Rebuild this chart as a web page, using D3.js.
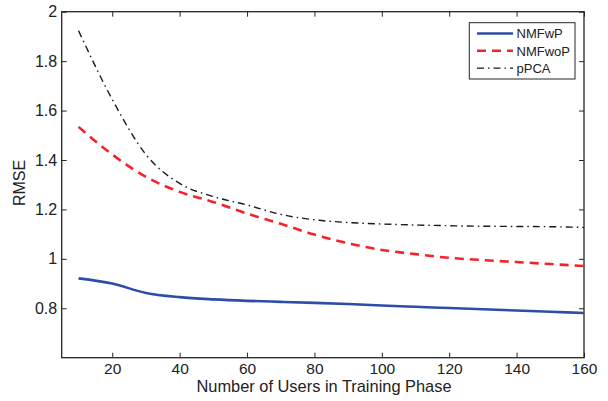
<!DOCTYPE html>
<html>
<head>
<meta charset="utf-8">
<script src="https://cdn.jsdelivr.net/npm/d3@7"></script>
<style>
  html, body { margin: 0; padding: 0; background: #fff; }
  svg { display: block; font-family: "Liberation Sans", Arial, sans-serif; }
</style>
</head>
<body>
<svg id="chart" width="608" height="401"></svg>
<script>
// Number of users in the training phase
const users = [10, 20, 30, 40, 50, 60, 70, 80, 90, 100, 110, 120, 130, 140, 150, 160];

// RMSE per method
const nmfwp  = [0.921, 0.900, 0.862, 0.845, 0.836, 0.830, 0.826, 0.822, 0.817, 0.811, 0.806, 0.801, 0.796, 0.791, 0.786, 0.781];
const nmfwop = [1.534, 1.422, 1.332, 1.271, 1.230, 1.183, 1.142, 1.098, 1.063, 1.036, 1.019, 1.004, 0.995, 0.987, 0.979, 0.971];
const ppca   = [1.923, 1.645, 1.422, 1.305, 1.252, 1.218, 1.180, 1.158, 1.147, 1.141, 1.137, 1.134, 1.132, 1.131, 1.130, 1.127];

const seriesNames = ["NMFwP", "NMFwoP", "pPCA"];
const xTicks = [20, 40, 60, 80, 100, 120, 140, 160];
const yTicks = [0.8, 1, 1.2, 1.4, 1.6, 1.8, 2];

const svg = d3.select("#chart");
const margin = { left: 61.7, top: 11.7, right: 608 - 584, bottom: 401 - 357.7 };
const W = 608 - margin.left - margin.right;
const H = 401 - margin.top - margin.bottom;

const x = d3.scaleLinear().domain([5, 160]).range([margin.left, margin.left + W]);
const y = d3.scaleLinear().domain([0.6, 2]).range([margin.top + H, margin.top]);

const axisColor = "#262626";
const tickLen = 5;

// Axes with inward ticks
const gx = svg.append("g").attr("transform", `translate(0,${margin.top + H})`)
  .call(d3.axisBottom(x).tickValues(xTicks).tickFormat(d3.format("d")).tickSizeInner(-tickLen).tickSizeOuter(0).tickPadding(5));
const gxTop = svg.append("g").attr("transform", `translate(0,${margin.top})`)
  .call(d3.axisTop(x).tickValues(xTicks).tickFormat("").tickSizeInner(-tickLen).tickSizeOuter(0));
const gy = svg.append("g").attr("transform", `translate(${margin.left},0)`)
  .call(d3.axisLeft(y).tickValues(yTicks).tickFormat(d => String(d)).tickSizeInner(-tickLen).tickSizeOuter(0).tickPadding(4.5));
const gyRight = svg.append("g").attr("transform", `translate(${margin.left + W},0)`)
  .call(d3.axisRight(y).tickValues(yTicks).tickFormat("").tickSizeInner(-tickLen).tickSizeOuter(0));

[gx, gxTop, gy, gyRight].forEach(g => {
  g.select(".domain").remove();
  g.selectAll(".tick line").attr("stroke", axisColor).attr("stroke-width", 1);
  g.selectAll(".tick text").attr("fill", "#222").style("font-size", "16px")
    .style("font-family", '"Liberation Sans", Arial, sans-serif');
});
gx.selectAll(".tick text").style("font-size", "15.5px");

// Box around the plotting area
svg.append("rect")
  .attr("x", margin.left).attr("y", margin.top)
  .attr("width", W).attr("height", H)
  .attr("fill", "none").attr("stroke", axisColor).attr("stroke-width", 1.3);

// Axis titles
svg.append("text")
  .attr("x", 324).attr("y", 392)
  .attr("text-anchor", "middle").attr("fill", "#222")
  .style("font-size", "16.4px")
  .text("Number of Users in Training Phase");

svg.append("text")
  .attr("transform", `translate(25,183) rotate(-90)`)
  .attr("text-anchor", "middle").attr("fill", "#222")
  .style("font-size", "16px")
  .text("RMSE");

// Series
const styles = [
  { values: nmfwp,  color: "#2e4da6", width: 2.6, dash: null },
  { values: nmfwop, color: "#f52228", width: 2.6, dash: "9,6" },
  { values: ppca,   color: "#1a1a1a", width: 1.4, dash: "7,4,1.5,4" }
];

const line = d3.line()
  .x(d => x(d[0]))
  .y(d => y(d[1]))
  .curve(d3.curveMonotoneX);

styles.forEach(s => {
  svg.append("path")
    .datum(users.map((u, i) => [u, s.values[i]]))
    .attr("fill", "none")
    .attr("stroke", s.color)
    .attr("stroke-width", s.width)
    .attr("stroke-dasharray", s.dash)
    .attr("d", line);
});

// Legend
const lg = svg.append("g");
lg.append("rect")
  .attr("x", 469.3).attr("y", 22.7)
  .attr("width", 105.7).attr("height", 56.3)
  .attr("fill", "#fff").attr("stroke", axisColor).attr("stroke-width", 1);

seriesNames.forEach((name, i) => {
  const yy = 33.5 + i * 17.3;
  lg.append("line")
    .attr("x1", 477).attr("x2", 513)
    .attr("y1", yy).attr("y2", yy)
    .attr("stroke", styles[i].color)
    .attr("stroke-width", styles[i].width)
    .attr("stroke-dasharray", styles[i].dash);
  lg.append("text")
    .attr("x", 516.5).attr("y", yy + 4.7)
    .attr("fill", "#222")
    .style("font-size", "13px")
    .text(name);
});
</script>
</body>
</html>
